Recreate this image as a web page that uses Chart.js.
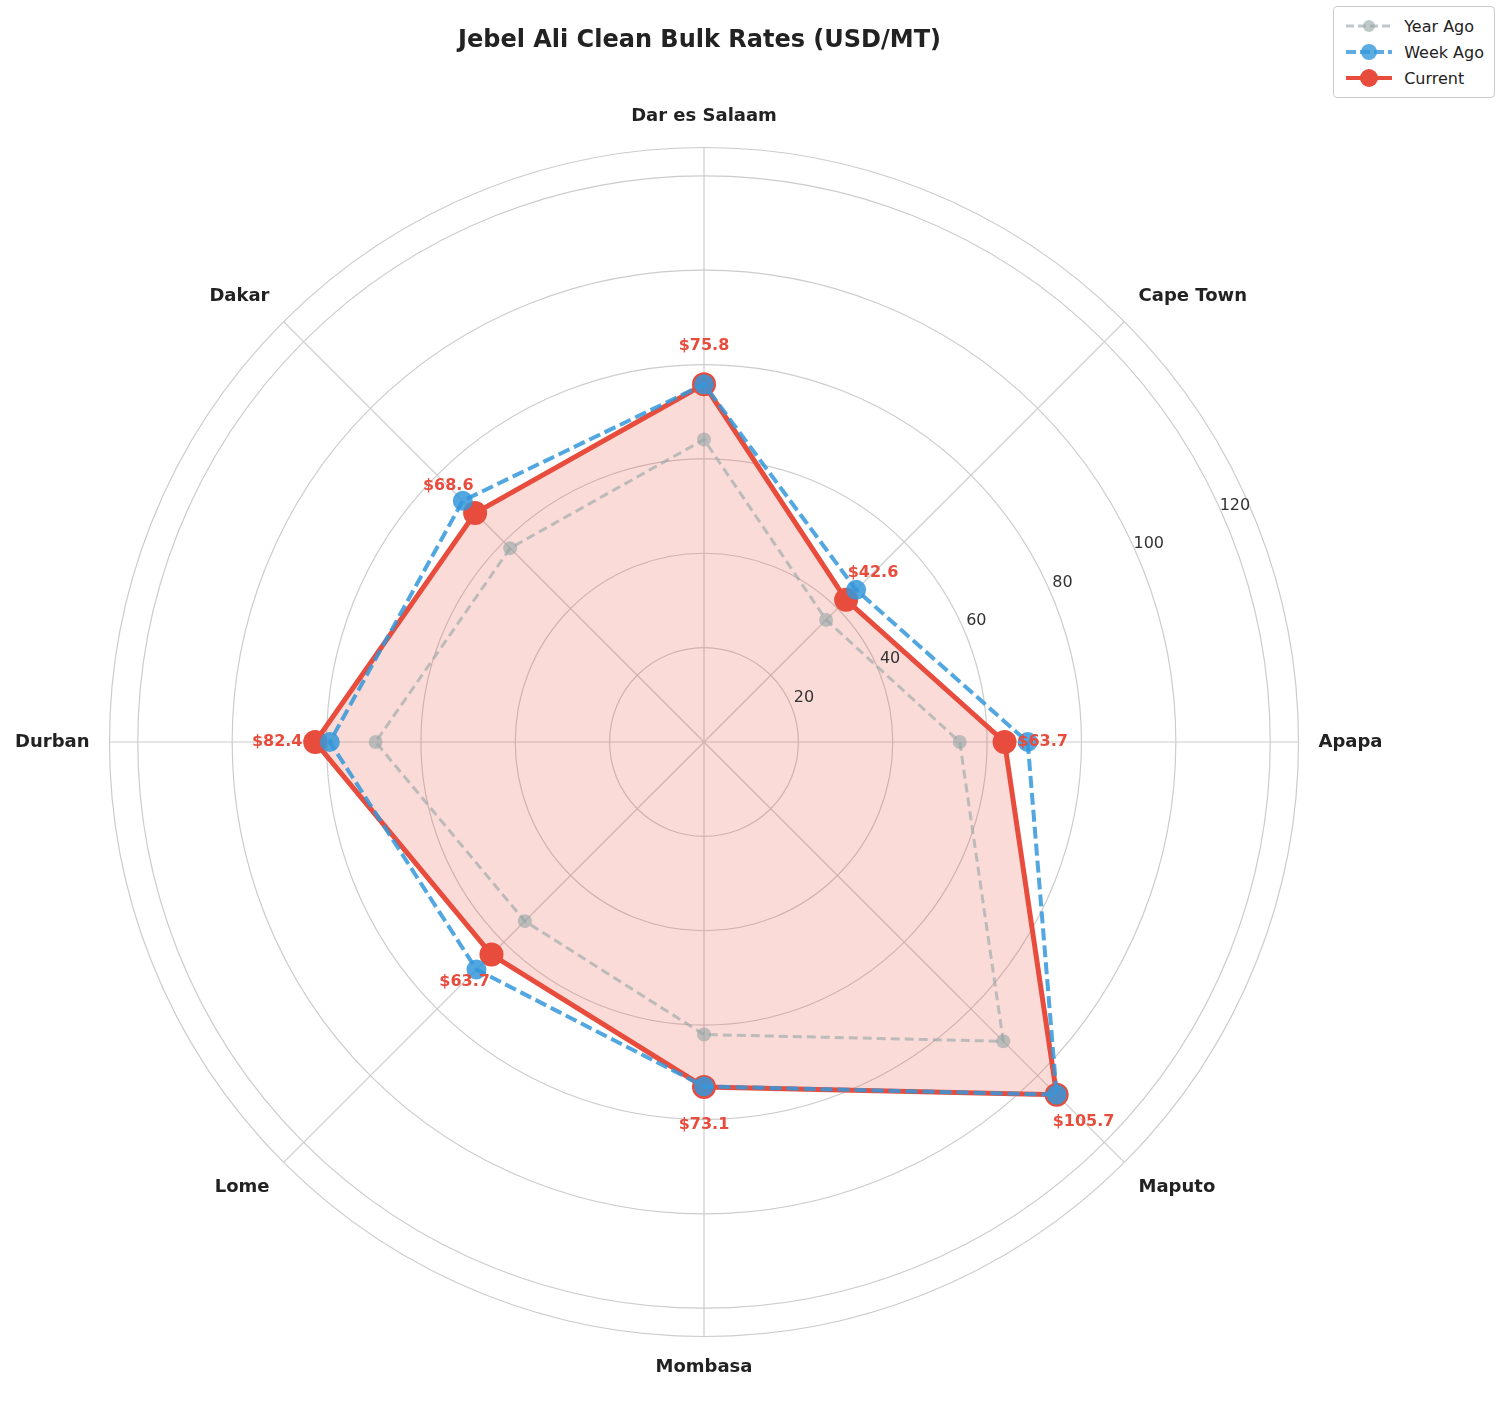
<!DOCTYPE html>
<html><head><meta charset="utf-8">
<script src="https://cdn.jsdelivr.net/npm/chart.js@4"></script>
<style>
body{margin:0;background:#fff;font-family:"DejaVu Sans",Arial,sans-serif}
#wrap{position:relative;width:1503px;height:1412px}
#legend{position:absolute;right:8px;top:6px;border:1px solid #ccc;border-radius:4px;padding:6px 10px;font-size:16px;color:#222;background:#fff}
#legend div{display:flex;align-items:center;height:26px}
#legend svg{margin-right:10px}
</style></head><body>
<div id="wrap"><canvas id="c" width="1503" height="1412"></canvas>
<div id="legend">
<div><svg width="50" height="20"><line x1="2" y1="10" x2="48" y2="10" stroke="#95a5a6" stroke-opacity="0.6" stroke-width="3" stroke-dasharray="8,4"/><circle cx="25" cy="10" r="6" fill="#95a5a6" fill-opacity="0.6"/></svg>Year Ago</div>
<div><svg width="50" height="20"><line x1="2" y1="10" x2="48" y2="10" stroke="#3498db" stroke-opacity="0.8" stroke-width="4" stroke-dasharray="10,4"/><circle cx="25" cy="10" r="8" fill="#3498db" fill-opacity="0.8"/></svg>Week Ago</div>
<div><svg width="50" height="20"><line x1="2" y1="10" x2="48" y2="10" stroke="#e74c3c" stroke-width="4"/><circle cx="25" cy="10" r="9" fill="#e74c3c"/></svg>Current</div>
</div></div>
<script>
const ports = ["Apapa","Maputo","Mombasa","Lome","Durban","Dakar","Dar es Salaam","Cape Town"];
const yearAgo = [54.2, 89.7, 62.0, 53.7, 69.6, 58.1, 64.1, 36.6];
const weekAgo = [68.6, 105.7, 73.0, 68.2, 79.3, 72.3, 75.8, 45.6];
const current = [63.7, 105.7, 73.1, 63.7, 82.4, 68.6, 75.8, 42.6];
const tickValues = [20, 40, 60, 80, 100, 120];

const extras = {
  id: 'extras',
  afterDatasetsDraw(chart) {
    const ctx = chart.ctx, s = chart.scales.r;
    ctx.save();
    ctx.font = '16px "DejaVu Sans", Arial';
    ctx.fillStyle = '#333'; ctx.textAlign = 'center'; ctx.textBaseline = 'middle';
    const a = -24 * Math.PI / 180;
    tickValues.forEach(v => {
      const d = s.getDistanceFromCenterForValue(v) + 15;
      ctx.fillText(String(v), s.xCenter + d * Math.cos(a), s.yCenter + d * Math.sin(a));
    });
    ctx.font = 'bold 16px "DejaVu Sans", Arial';
    ctx.fillStyle = '#e74c3c';
    const meta = chart.getDatasetMeta(2);
    meta.data.forEach((p, i) => {
      const dx = p.x - s.xCenter, dy = p.y - s.yCenter, r = Math.hypot(dx, dy);
      const k = (r + 38) / r;
      ctx.fillText('$' + current[i].toFixed(1), s.xCenter + dx * k, s.yCenter + dy * k);
    });
    ctx.restore();
  }
};

new Chart(document.getElementById('c'), {
  type: 'radar',
  data: { labels: ports, datasets: [
    { label: 'Year Ago', data: yearAgo, borderColor: 'rgba(149,165,166,0.6)', backgroundColor: 'rgba(149,165,166,0.6)', borderWidth: 3, borderDash: [9,5], pointRadius: 7, pointBackgroundColor: 'rgba(149,165,166,0.6)', pointBorderWidth: 0, fill: false },
    { label: 'Week Ago', data: weekAgo, borderColor: 'rgba(52,152,219,0.85)', backgroundColor: 'rgba(52,152,219,0.85)', borderWidth: 4, borderDash: [12,5], pointRadius: 10, pointBackgroundColor: 'rgba(52,152,219,0.85)', pointBorderWidth: 0, fill: false },
    { label: 'Current', data: current, borderColor: '#e74c3c', backgroundColor: 'rgba(231,76,60,0.2)', borderWidth: 5, pointRadius: 12, pointBackgroundColor: '#e74c3c', pointBorderWidth: 0, fill: true }
  ]},
  options: {
    responsive: false, animation: false,
    layout: { padding: { top: 0, bottom: 18, left: 10, right: 114 } },
    plugins: {
      legend: { display: false }, tooltip: { enabled: false },
      title: { display: true, text: 'Jebel Ali Clean Bulk Rates (USD/MT)', font: { size: 24, weight: 'bold', family: '"DejaVu Sans", Arial' }, color: '#222', padding: { top: 26, bottom: 36 } }
    },
    scales: { r: {
      startAngle: 90, min: 0, max: 126,
      ticks: { display: false, stepSize: 20 },
      grid: { circular: true, color: '#cccccc', lineWidth: 1.2 },
      angleLines: { color: '#cccccc', lineWidth: 1.2 },
      pointLabels: { font: { size: 18, weight: 'bold', family: '"DejaVu Sans", Arial' }, color: '#222', padding: 20 }
    }}
  },
  plugins: [extras]
});
</script></body></html>
